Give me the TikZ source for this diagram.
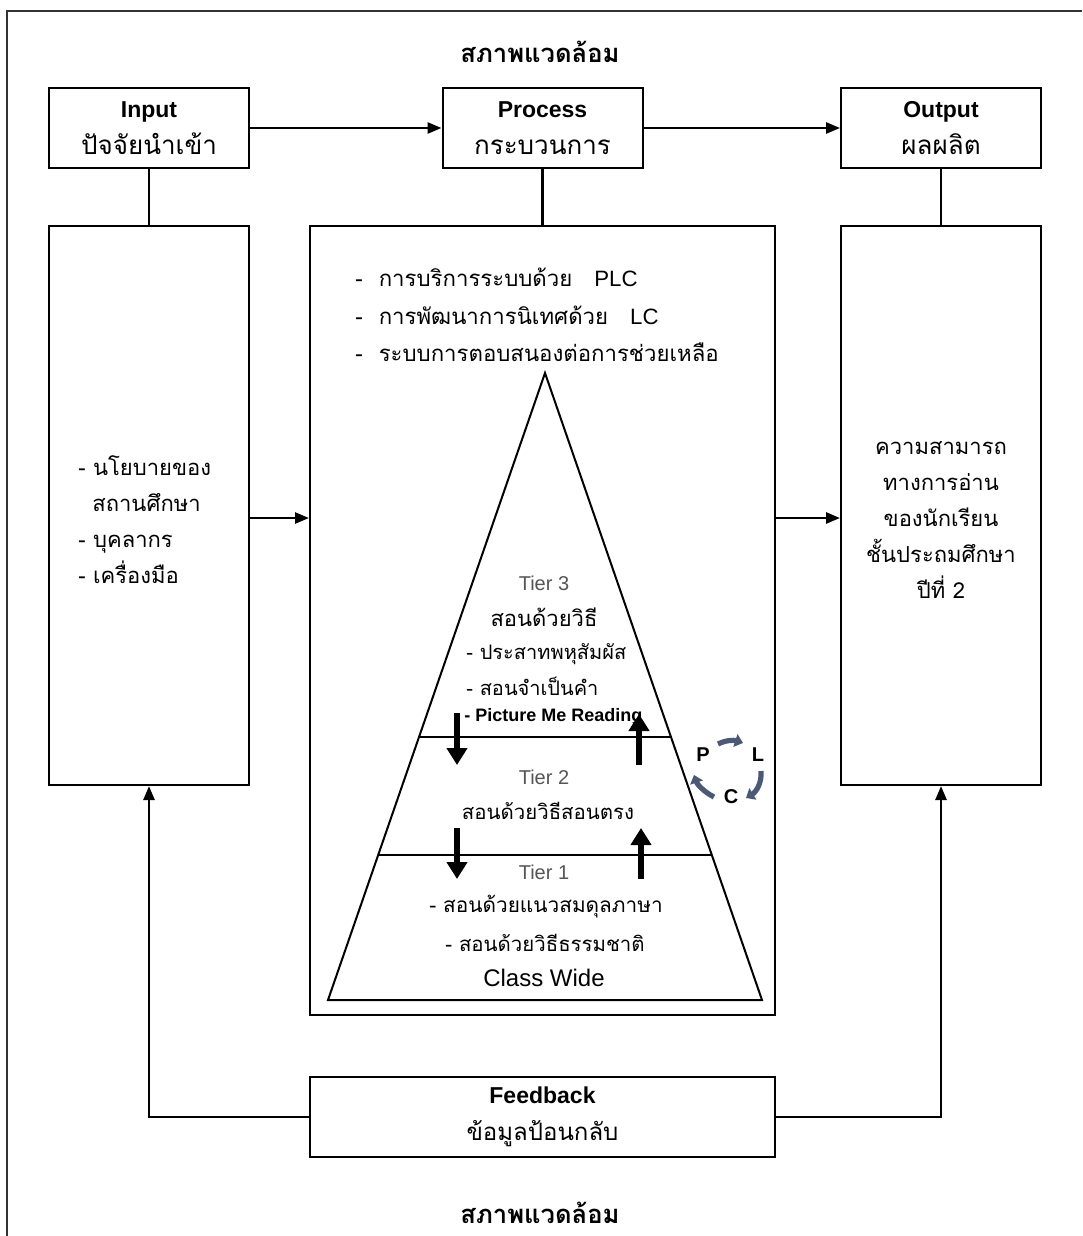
\documentclass[tikz,border=0pt]{standalone}
\usepackage{fontspec}
\setmainfont{Liberation Sans}
\newfontfamily\thai[Script=Thai]{Loma}
\usetikzlibrary{positioning}
\usetikzlibrary{arrows.meta}
\usetikzlibrary{calc}
\definecolor{cyclegray}{RGB}{72,90,120}
\definecolor{tiergray}{RGB}{85,85,85}

\begin{document}
\begin{tikzpicture}[
  x=0.5pt, y=-0.5pt,
  font=\fontsize{11.5}{18.5}\selectfont,
  box/.style={draw, line width=1pt, align=center, minimum width=100pt, minimum height=40pt, inner sep=0pt},
  tallbox/.style={draw, line width=1pt, minimum width=100pt, minimum height=279.5pt, inner sep=0pt},
  heading/.style={font=\thai\bfseries\fontsize{12.8}{14}\selectfont},
  thaitext/.style={font=\thai\fontsize{11}{18}\selectfont},
  tier/.style={font=\fontsize{10}{12}\selectfont, text=tiergray},
  arrow/.style={-{Triangle[length=7pt,width=5.5pt]}, line width=1.3pt},
  link/.style={line width=1.3pt},
  bigarrow/.style={-{Triangle[length=8.5pt,width=10pt]}, line width=3pt},
  cycarrow/.style={-{Triangle[length=4pt,width=6.5pt]}, line width=2.6pt, cyclegray}
]
\useasboundingbox (0,0) rectangle (1082,1236);
\draw[line width=1pt, black!80] (7,1236) -- (7,11) -- (1082,11);

\node[heading] (envtop) at (540,52) {สภาพแวดล้อม};
\node[heading] (envbottom) at (540,1213) {สภาพแวดล้อม};

% top row
\node[box] (input) at (149,128) {\textbf{Input}\\{\thai\fontsize{13}{15}\selectfont ปัจจัยนำเข้า}};
\node[box, right=95.75pt of input] (process) {\textbf{Process}\\{\thai\fontsize{13}{15}\selectfont กระบวนการ}};
\node[box, right=98.25pt of process] (output) {\textbf{Output}\\{\thai\fontsize{13}{15}\selectfont ผลผลิต}};

% columns
\node[tallbox, below=28pt of input] (leftbox) {};
\node[tallbox, minimum width=232.5pt, minimum height=394.5pt, below=28pt of process] (midbox) {};
\node[tallbox, below=28pt of output] (rightbox) {};
\node[box, minimum width=232.5pt, below=30pt of midbox] (feedback) {\textbf{Feedback}\\{\thai\fontsize{12}{15}\selectfont ข้อมูลป้อนกลับ}};

\draw[arrow] (input) -- (process);
\draw[arrow] (process) -- (output);
\draw[link] (input) -- (leftbox);
\draw[link] (process) -- (midbox);
\draw[link] (output) -- (rightbox);

\coordinate (midlevel) at (0,518);
\draw[arrow] (leftbox.east |- midlevel) -- (midbox.west |- midlevel);
\draw[arrow] (midbox.east |- midlevel) -- (rightbox.west |- midlevel);
\draw[arrow] (feedback.west) -| (leftbox.south);
\draw[arrow] (feedback.east) -| (rightbox.south);

% box texts
\node[thaitext, anchor=west, align=left, inner sep=0pt] (inlist) at (78,520)
  {- นโยบายของ\\\hspace{7pt}สถานศึกษา\\- บุคลากร\\- เครื่องมือ};
\node[thaitext, align=center] (outlist) at (941,520)
  {ความสามารถ\\ทางการอ่าน\\ของนักเรียน\\ชั้นประถมศึกษา\\ปีที่ 2};
\node[thaitext, font=\thai\fontsize{11.1}{18.75}\selectfont, anchor=west, align=left, inner sep=0pt] (plist) at (355,315)
  {-\hspace{8pt}การบริการระบบด้วย\hspace{11pt}{\rmfamily PLC}\\
   -\hspace{8pt}การพัฒนาการนิเทศด้วย\hspace{11pt}{\rmfamily LC}\\
   -\hspace{8pt}ระบบการตอบสนองต่อการช่วยเหลือ};

% pyramid
\coordinate (apex) at (545,373);
\coordinate (baseL) at (328,1000);
\coordinate (baseR) at (762,1000);
\draw[line width=1pt] (apex) -- (baseL) -- (baseR) -- cycle;
\draw[line width=1pt] ($(apex)!0.5805!(baseL)$) -- ($(apex)!0.5805!(baseR)$);
\draw[line width=1pt] ($(apex)!0.7687!(baseL)$) -- ($(apex)!0.7687!(baseR)$);

\node[tier] (tier3) at (544,583) {Tier 3};
\node[thaitext] (tier3head) at (544,617) {สอนด้วยวิธี};
\node[thaitext, font=\thai\fontsize{10}{12}\selectfont, anchor=west, inner sep=0pt] (tier3a) at (466,654) {- ประสาทพหุสัมผัส};
\node[thaitext, font=\thai\fontsize{10}{12}\selectfont, anchor=west, inner sep=0pt] (tier3b) at (466,686) {- สอนจำเป็นคำ};
\node[font=\bfseries\fontsize{9}{11}\selectfont, anchor=west, inner sep=0pt] (tier3c) at (464,717) {- Picture Me Reading};

\node[tier] (tier2) at (544,777) {Tier 2};
\node[thaitext, font=\thai\fontsize{10.2}{12}\selectfont] (tier2head) at (548,811) {สอนด้วยวิธีสอนตรง};

\node[tier] (tier1) at (544,872) {Tier 1};
\node[thaitext, font=\thai\fontsize{10.4}{12}\selectfont] (tier1a) at (546,907) {- สอนด้วยแนวสมดุลภาษา};
\node[thaitext, font=\thai\fontsize{10.2}{12}\selectfont] (tier1b) at (545,943) {- สอนด้วยวิธีธรรมชาติ};
\node[font=\fontsize{12}{14}\selectfont] (classwide) at (544,978) {Class Wide};

% tier arrows
\coordinate (down3s) at (457,713);
\coordinate (down3e) at (457,765);
\coordinate (up2s) at (639,765);
\coordinate (up2e) at (639,714);
\coordinate (down2s) at (457,828);
\coordinate (down2e) at (457,879);
\coordinate (up1s) at (641,879);
\coordinate (up1e) at (641,828);
\draw[bigarrow] (down3s) -- (down3e);
\draw[bigarrow] (up2s) -- (up2e);
\draw[bigarrow] (down2s) -- (down2e);
\draw[bigarrow] (up1s) -- (up1e);

% PLC cycle
\node[font=\bfseries\fontsize{10}{12}\selectfont] (plcP) at (703,755) {P};
\node[font=\bfseries\fontsize{10}{12}\selectfont] (plcL) at (758,755) {L};
\node[font=\bfseries\fontsize{10}{12}\selectfont] (plcC) at (731,797) {C};
\draw[cycarrow] (718,744) .. controls (726,740) and (734,740) .. (743,743);
\draw[cycarrow] (761,771) .. controls (762,783) and (756,792) .. (746,798);
\draw[cycarrow] (714,797) .. controls (704,792) and (697,784) .. (694,775);

\end{tikzpicture}
\end{document}
